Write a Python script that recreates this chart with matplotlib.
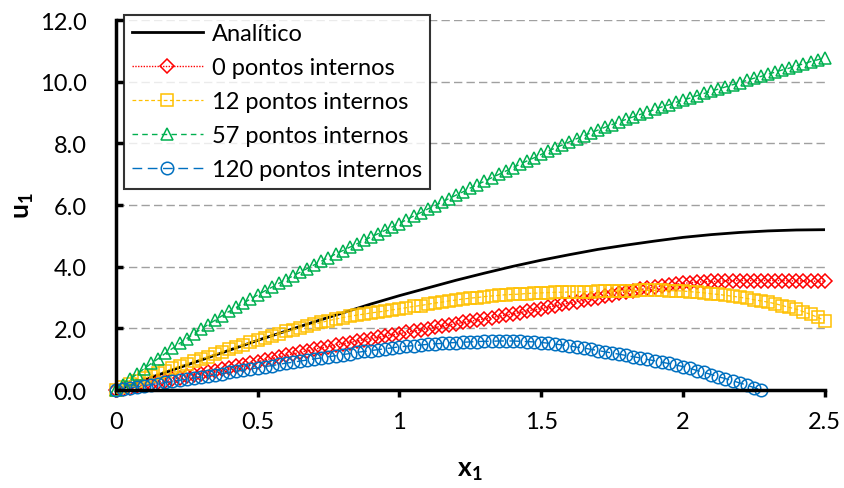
import numpy as np
import matplotlib

matplotlib.use("Agg")
import matplotlib.pyplot as plt

plt.rcParams["font.family"] = ["Lato", "DejaVu Sans"]
plt.rcParams["mathtext.fontset"] = "custom"
plt.rcParams["mathtext.bf"] = "Lato:bold"
plt.rcParams["mathtext.rm"] = "Lato"

# analytic solution, read every 0.1
x_analitico = np.linspace(0.0, 2.5, 26)
u_analitico = [0.00, 0.33, 0.65, 0.97, 1.29, 1.61, 1.91, 2.21, 2.50, 2.79, 3.06,
               3.31, 3.56, 3.79, 4.01, 4.21, 4.39, 4.56, 4.70, 4.83, 4.95,
               5.04, 5.11, 5.16, 5.19, 5.20]

# numerical results, read every 0.025
x_pts = np.linspace(0.0, 2.5, 101)
u_0 = [0.00, 0.04, 0.08, 0.13, 0.17, 0.21, 0.26, 0.30, 0.35, 0.39,
       0.44, 0.48, 0.53, 0.58, 0.62, 0.67, 0.72, 0.77, 0.82, 0.87,
       0.92, 0.97, 1.02, 1.07, 1.12, 1.17, 1.22, 1.27, 1.32, 1.37,
       1.41, 1.46, 1.50, 1.54, 1.59, 1.63, 1.67, 1.71, 1.75, 1.79,
       1.83, 1.87, 1.91, 1.95, 1.99, 2.03, 2.07, 2.11, 2.15, 2.19,
       2.23, 2.27, 2.31, 2.35, 2.39, 2.43, 2.47, 2.51, 2.56, 2.60,
       2.64, 2.69, 2.73, 2.78, 2.82, 2.87, 2.91, 2.96, 3.00, 3.05,
       3.09, 3.14, 3.18, 3.22, 3.26, 3.30, 3.34, 3.37, 3.40, 3.43,
       3.46, 3.48, 3.50, 3.51, 3.52, 3.53, 3.54, 3.55, 3.55, 3.55,
       3.55, 3.55, 3.55, 3.55, 3.55, 3.54, 3.54, 3.54, 3.53, 3.53,
       3.53]
u_12 = [0.00, 0.10, 0.20, 0.29, 0.38, 0.46, 0.54, 0.62, 0.70, 0.78,
        0.85, 0.93, 1.00, 1.08, 1.16, 1.24, 1.32, 1.40, 1.47, 1.55,
        1.62, 1.69, 1.76, 1.83, 1.90, 1.96, 2.02, 2.08, 2.14, 2.19,
        2.25, 2.30, 2.35, 2.39, 2.43, 2.46, 2.50, 2.53, 2.56, 2.60,
        2.63, 2.67, 2.71, 2.74, 2.78, 2.82, 2.85, 2.89, 2.92, 2.95,
        2.98, 3.00, 3.03, 3.05, 3.07, 3.09, 3.10, 3.11, 3.13, 3.14,
        3.15, 3.16, 3.17, 3.17, 3.18, 3.18, 3.19, 3.19, 3.20, 3.20,
        3.21, 3.21, 3.22, 3.22, 3.23, 3.23, 3.23, 3.23, 3.22, 3.22,
        3.21, 3.19, 3.17, 3.15, 3.12, 3.10, 3.07, 3.04, 3.01, 2.97,
        2.93, 2.89, 2.85, 2.80, 2.74, 2.68, 2.62, 2.54, 2.45, 2.36,
        2.25]
u_57 = [0.00, 0.17, 0.35, 0.52, 0.69, 0.86, 1.02, 1.19, 1.35, 1.51,
        1.67, 1.82, 1.97, 2.12, 2.26, 2.41, 2.55, 2.68, 2.82, 2.95,
        3.08, 3.21, 3.33, 3.46, 3.58, 3.70, 3.82, 3.94, 4.06, 4.18,
        4.29, 4.41, 4.52, 4.63, 4.74, 4.85, 4.96, 5.07, 5.18, 5.29,
        5.40, 5.52, 5.64, 5.75, 5.87, 5.98, 6.09, 6.21, 6.32, 6.43,
        6.55, 6.66, 6.77, 6.88, 6.99, 7.10, 7.21, 7.32, 7.43, 7.53,
        7.64, 7.75, 7.85, 7.95, 8.05, 8.15, 8.24, 8.34, 8.43, 8.52,
        8.61, 8.69, 8.78, 8.86, 8.94, 9.02, 9.10, 9.18, 9.25, 9.33,
        9.40, 9.47, 9.55, 9.62, 9.69, 9.76, 9.83, 9.90, 9.97, 10.04,
        10.11, 10.17, 10.24, 10.31, 10.38, 10.44, 10.51, 10.58, 10.65, 10.71,
        10.78]
x_120 = np.linspace(0.0, 2.275, 92)
u_120 = [0.00, 0.035, 0.07, 0.105, 0.14, 0.175, 0.21, 0.245, 0.28, 0.315,
         0.35, 0.385, 0.42, 0.46, 0.49, 0.53, 0.57, 0.61, 0.64, 0.68,
         0.72, 0.76, 0.79, 0.83, 0.87, 0.90, 0.94, 0.97, 1.01, 1.04,
         1.08, 1.11, 1.15, 1.18, 1.22, 1.25, 1.28, 1.31, 1.34, 1.37,
         1.40, 1.42, 1.44, 1.46, 1.48, 1.50, 1.51, 1.53, 1.54, 1.55,
         1.56, 1.57, 1.58, 1.58, 1.59, 1.59, 1.59, 1.58, 1.57, 1.56,
         1.54, 1.52, 1.49, 1.46, 1.43, 1.39, 1.36, 1.32, 1.28, 1.24,
         1.20, 1.16, 1.12, 1.08, 1.04, 0.99, 0.95, 0.90, 0.86, 0.81,
         0.76, 0.70, 0.63, 0.57, 0.50, 0.43, 0.37, 0.30, 0.23, 0.16,
         0.08, 0.00]

x_ticks = [0, 0.5, 1, 1.5, 2, 2.5]
x_ticklabels = ["0", "0.5", "1", "1.5", "2", "2.5"]
y_ticks = [0, 2, 4, 6, 8, 10, 12]

fig = plt.figure(figsize=(8.45, 4.89), dpi=100)
ax = fig.add_axes([0.137, 0.2004, 0.839, 0.7566])

ax.plot(x_analitico, u_analitico, color="black", linewidth=2.0, label="Analítico")
ax.plot(x_pts, u_0, color="#FF0000", linestyle=(0, (1, 1)), linewidth=1.0,
        marker="D", markersize=7.5, markerfacecolor="none", markeredgewidth=1.1,
        clip_on=False, label="0 pontos internos")
ax.plot(x_pts, u_12, color="#FFC000", linestyle=(0, (3, 2)), linewidth=0.9,
        marker="s", markersize=9, markerfacecolor="none", markeredgewidth=1.1,
        clip_on=False, label="12 pontos internos")
ax.plot(x_pts, u_57, color="#00B050", linestyle=(0, (4, 3)), linewidth=1.0,
        marker="^", markersize=9, markerfacecolor="none", markeredgewidth=1.1,
        clip_on=False, label="57 pontos internos")
ax.plot(x_120, u_120, color="#0070C0", linestyle=(0, (7, 4)), linewidth=1.0,
        marker="o", markersize=9, markerfacecolor="none", markeredgewidth=1.1,
        clip_on=False, label="120 pontos internos")

ax.set_xlim(0, 2.5)
ax.set_ylim(0, 12)
ax.set_xticks(x_ticks)
ax.set_xticklabels(x_ticklabels)
ax.set_yticks(y_ticks)
ax.set_yticklabels([f"{v:.1f}" for v in y_ticks])

ax.yaxis.grid(True, color="#A0A0A0", linestyle=(0, (6, 3)), linewidth=1.0)
ax.set_axisbelow(True)
for side in ["top", "right"]:
    ax.spines[side].set_visible(False)
for side in ["left", "bottom"]:
    ax.spines[side].set_linewidth(2.5)
ax.tick_params(axis="y", direction="in", length=5, width=2.5, pad=21, labelsize=17)
ax.tick_params(axis="x", direction="out", length=5, width=2.5, pad=10, labelsize=17)

ax.set_xlabel(r"$\mathbf{x_1}$", fontsize=19, labelpad=18)
ax.set_ylabel(r"$\mathbf{u_1}$", fontsize=19, labelpad=3)

leg = ax.legend(loc="upper left", bbox_to_anchor=(0.011, 1.013), borderaxespad=0,
                fontsize=17, frameon=True, fancybox=False, edgecolor="black",
                handlelength=3.0, handletextpad=0.4, labelspacing=0.55,
                borderpad=0.35, numpoints=1)
leg.get_frame().set_linewidth(1.5)

fig.savefig("out.png", dpi=100)
plt.close(fig)
